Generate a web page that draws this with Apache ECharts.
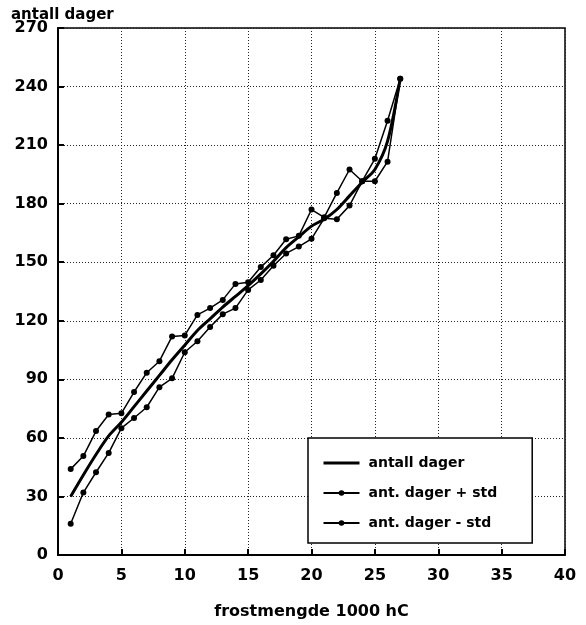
<!DOCTYPE html>
<html>
<head>
<meta charset="utf-8">
<script src="https://cdn.jsdelivr.net/npm/echarts@6/dist/echarts.min.js"></script>
<style>
  html, body { margin: 0; padding: 0; background: #fff; }
  #chart { width: 586px; height: 625px; }
</style>
</head>
<body>
<div id="chart"></div>
<script>
// Frost amount (1000 hC) against number of days
const frostmengde = [1, 2, 3, 4, 5, 6, 7, 8, 9, 10, 11, 12, 13, 14, 15, 16, 17, 18, 19, 20, 21, 22, 23, 24, 25, 26, 27];
const antallDager = [30, 41, 51.5, 61, 68, 76, 84, 92, 100, 107.5, 115, 121, 127, 132.5, 138, 144, 150.5, 157.5, 163, 168.5, 172, 177, 184, 191, 197.5, 212, 244];
const dagerPlusStd = [44, 50.7, 63.5, 72, 72.6, 83.5, 93.4, 99.3, 112, 112.5, 123, 126.5, 130.7, 138.9, 139.7, 147.5, 153.6, 161.8, 163.5, 177, 173, 185.5, 197.5, 191.5, 203, 222.5, 244];
const dagerMinusStd = [16, 32, 42.4, 52.3, 65, 70.2, 75.7, 86, 90.5, 103.9, 109.5, 116.8, 123.4, 126.5, 135.8, 140.9, 148.2, 154.5, 158, 162, 172.5, 172, 179, 191.5, 191.5, 201.5, 244];

const seriesNames = ['antall dager', 'ant. dager + std', 'ant. dager - std'];

const pairs = (ys) => frostmengde.map((x, i) => [x, ys[i]]);

const boldFont = { fontFamily: 'DejaVu Sans', fontWeight: 'bold', color: '#000' };
const tickFont = Object.assign({ fontSize: 16 }, boldFont);
const gridLine = { show: true, lineStyle: { color: '#222', width: 1, type: [1, 2] } };

const chart = echarts.init(document.getElementById('chart'), null, { renderer: 'canvas' });
chart.setOption({
  animation: false,
  backgroundColor: '#fff',
  title: {
    text: 'antall dager',
    left: 6, top: 3,
    textStyle: Object.assign({ fontSize: 15 }, boldFont)
  },
  grid: {
    left: 58, right: 21, top: 28, bottom: 67,
    show: true, borderColor: '#000', borderWidth: 1.5, backgroundColor: 'transparent'
  },
  legend: {
    data: [
      { name: seriesNames[0], itemStyle: { opacity: 0 }, lineStyle: { width: 3 } },
      { name: seriesNames[1] },
      { name: seriesNames[2] }
    ],
    orient: 'vertical',
    left: 308, top: 438,
    backgroundColor: '#fff',
    borderColor: '#000', borderWidth: 1.5, borderRadius: 0,
    padding: [18, 35, 13, 14],
    itemWidth: 36, itemHeight: 7, itemGap: 16,
    textStyle: Object.assign({ fontSize: 14, padding: [0, 0, 0, 4] }, boldFont)
  },
  xAxis: {
    type: 'value', min: 0, max: 40, interval: 5,
    name: 'frostmengde 1000 hC', nameLocation: 'middle', nameGap: 49,
    nameTextStyle: Object.assign({ fontSize: 16 }, boldFont),
    axisLine: { lineStyle: { color: '#000', width: 2 } },
    axisTick: { inside: true, length: 6, lineStyle: { color: '#000', width: 2 } },
    axisLabel: Object.assign({ margin: 13 }, tickFont),
    splitLine: gridLine
  },
  yAxis: {
    type: 'value', min: 0, max: 270, interval: 30,
    axisLine: { show: true, lineStyle: { color: '#000', width: 2 } },
    axisTick: { show: true, inside: true, length: 6, lineStyle: { color: '#000', width: 2 } },
    axisLabel: Object.assign({ margin: 10 }, tickFont),
    splitLine: gridLine
  },
  series: [
    {
      name: seriesNames[0], type: 'line', data: pairs(antallDager),
      smooth: 0.3, symbol: 'none',
      lineStyle: { color: '#000', width: 3 },
      itemStyle: { color: '#000' }
    },
    {
      name: seriesNames[1], type: 'line', data: pairs(dagerPlusStd),
      symbol: 'circle', symbolSize: 6, showSymbol: true,
      lineStyle: { color: '#000', width: 1.5 },
      itemStyle: { color: '#000' }
    },
    {
      name: seriesNames[2], type: 'line', data: pairs(dagerMinusStd),
      symbol: 'circle', symbolSize: 6, showSymbol: true,
      lineStyle: { color: '#000', width: 1.5 },
      itemStyle: { color: '#000' }
    }
  ]
});
</script>
</body>
</html>
